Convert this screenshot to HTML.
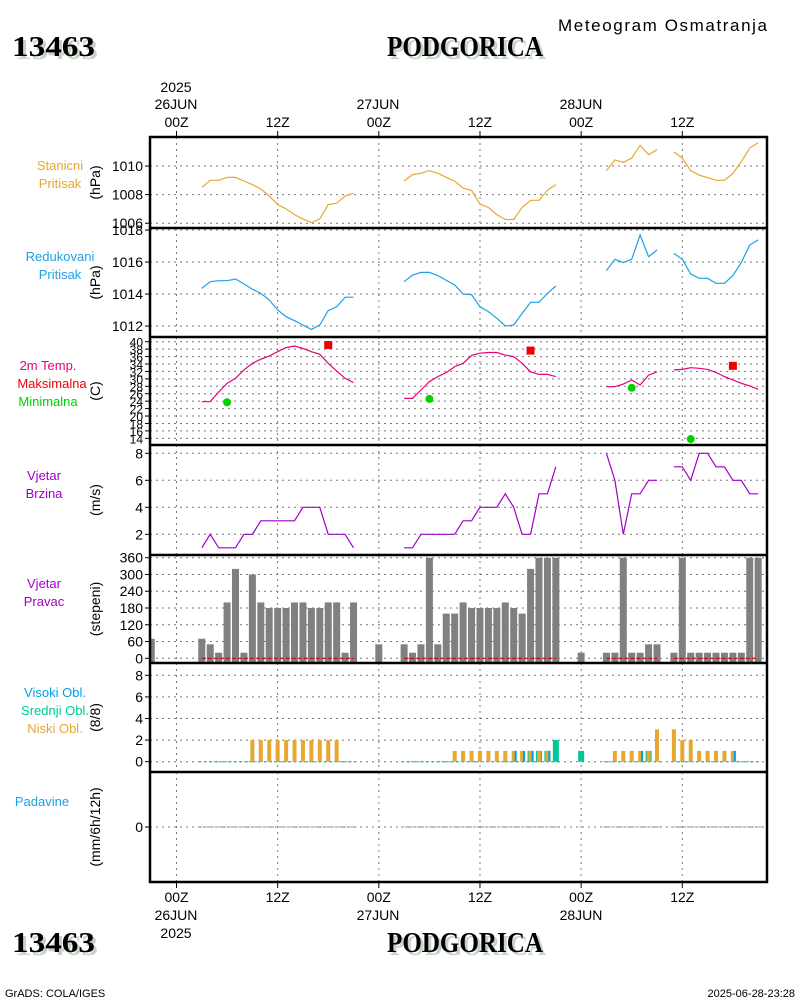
<!DOCTYPE html>
<html><head><meta charset="utf-8"><style>
html,body{margin:0;padding:0;background:#fff;}
svg{display:block;font-family:"Liberation Sans",sans-serif;}
</style></head><body>
<svg id="chart" width="800" height="1000" viewBox="0 0 800 1000" xmlns="http://www.w3.org/2000/svg">
<rect x="0" y="0" width="800" height="1000" fill="#fff"/>
<text x="558" y="31" font-size="17" textLength="209">Meteogram Osmatranja</text>
<g font-family="Liberation Serif, serif" font-weight="bold" font-size="28">
<text x="15" y="59" fill="#c8d4c8" textLength="83" lengthAdjust="spacingAndGlyphs">13463</text>
<text x="12" y="56" fill="#000" textLength="83" lengthAdjust="spacingAndGlyphs">13463</text>
<text x="390" y="59" fill="#c8d4c8" textLength="156" lengthAdjust="spacingAndGlyphs">PODGORICA</text>
<text x="387" y="56" fill="#000" textLength="156" lengthAdjust="spacingAndGlyphs">PODGORICA</text>
<text x="15" y="955" fill="#c8d4c8" textLength="83" lengthAdjust="spacingAndGlyphs">13463</text>
<text x="12" y="952" fill="#000" textLength="83" lengthAdjust="spacingAndGlyphs">13463</text>
<text x="390" y="955" fill="#c8d4c8" textLength="156" lengthAdjust="spacingAndGlyphs">PODGORICA</text>
<text x="387" y="952" fill="#000" textLength="156" lengthAdjust="spacingAndGlyphs">PODGORICA</text>
</g>
<text x="5" y="997" font-size="11">GrADS: COLA/IGES</text>
<text x="795" y="997" font-size="11" text-anchor="end">2025-06-28-23:28</text>
<g font-size="13" text-anchor="middle">
<text x="60" y="170" fill="#e6a830">Stanicni</text>
<text x="60" y="188" fill="#e6a830">Pritisak</text>
<text x="60" y="261" fill="#1ea0e6">Redukovani</text>
<text x="60" y="279" fill="#1ea0e6">Pritisak</text>
<text x="48" y="370" fill="#e6007a">2m Temp.</text>
<text x="52" y="388" fill="#f00000">Maksimalna</text>
<text x="48" y="406" fill="#00d200">Minimalna</text>
<text x="44" y="480" fill="#a000c8">Vjetar</text>
<text x="44" y="498" fill="#a000c8">Brzina</text>
<text x="44" y="588" fill="#a000c8">Vjetar</text>
<text x="44" y="606" fill="#a000c8">Pravac</text>
<text x="55" y="697" fill="#00a0e6">Visoki Obl.</text>
<text x="55" y="715" fill="#00c896">Srednji Obl.</text>
<text x="55" y="733" fill="#e6a830">Niski Obl.</text>
<text x="42" y="806" fill="#1ea0e6">Padavine</text>
</g>
<g font-size="14" text-anchor="middle">
<text x="176" y="92">2025</text>
<text x="176" y="109">26JUN</text>
<text x="378" y="109">27JUN</text>
<text x="581" y="109">28JUN</text>
<text x="176" y="920">26JUN</text>
<text x="378" y="920">27JUN</text>
<text x="581" y="920">28JUN</text>
<text x="176" y="938">2025</text>
</g>
<g id="plot"></g>
</svg>
<script>
const hoursTicks = [0, 12, 24, 36, 48, 60];
const hourLabels = ["00Z", "12Z", "00Z", "12Z", "00Z", "12Z"];
const stnStarts = [3, 27, 51, 59];
const stnVals = [
 [1008.5,1009.0,1009.0,1009.2,1009.2,1008.95,1008.7,1008.4,1007.9,1007.3,1007.0,1006.6,1006.3,1006.05,1006.3,1007.3,1007.4,1007.9,1008.1],
 [1008.95,1009.4,1009.5,1009.67,1009.5,1009.2,1008.95,1008.45,1008.3,1007.33,1007.1,1006.6,1006.26,1006.26,1007.1,1007.6,1007.6,1008.3,1008.7],
 [1009.67,1010.43,1010.26,1010.55,1011.45,1010.79,1011.14],
 [1010.98,1010.55,1009.67,1009.36,1009.19,1009.0,1009.0,1009.48,1010.31,1011.26,1011.62]
];
const redVals = [
 [1014.35,1014.77,1014.83,1014.83,1014.94,1014.63,1014.3,1014.04,1013.63,1013.0,1012.58,1012.33,1012.06,1011.79,1012.06,1012.96,1013.2,1013.8,1013.8],
 [1014.77,1015.19,1015.35,1015.35,1015.15,1014.85,1014.56,1014.0,1013.96,1013.2,1012.9,1012.48,1012.0,1012.06,1012.79,1013.48,1013.48,1014.04,1014.5],
 [1015.46,1016.17,1015.96,1016.17,1017.69,1016.33,1016.75],
 [1016.54,1016.17,1015.25,1014.98,1014.98,1014.67,1014.67,1015.15,1015.96,1017.06,1017.38]
];
const tempVals = [
 [23.85,23.85,26.5,28.8,30.15,32.4,34.2,35.3,36.15,37.3,38.4,38.85,38.2,37.3,36.6,34.2,32.1,30.15,29.0],
 [24.75,24.75,27.0,29.25,30.6,31.7,33.3,34.2,36.3,36.9,37.1,37.1,36.4,35.95,34.2,31.9,31.2,31.2,30.6],
 [27.9,27.9,28.6,29.7,28.35,31.0,31.9],
 [32.4,32.55,33.0,32.85,32.55,31.75,30.6,29.7,28.8,28.1,27.2]
];
const maxHours = [18, 42, 66];
const maxTemps = [39.1, 37.6, 33.5];
const minHours = [6, 30, 54, 61];
const minTemps = [23.7, 24.6, 27.6, 13.8];
const spdVals = [
 [1,2,1,1,1,2,2,3,3,3,3,3,4,4,4,2,2,2,1],
 [1,1,2,2,2,2,2,3,3,4,4,4,5,4,2,2,5,5,7],
 [8,6,2,5,5,6,6],
 [7,7,6,8,8,7,7,6,6,5,5]
];
const dirVals = [
 [70,50,20,200,320,20,300,200,180,180,180,200,200,180,180,200,200,20,200],
 [50,20,50,360,50,160,160,200,180,180,180,180,200,180,160,320,360,360,360],
 [20,20,360,20,20,50,50],
 [20,360,20,20,20,20,20,20,20,360,360]
];
const dirExtraHours = [-3, 24, 48];
const dirExtraVals = [70, 50, 20];
const lowVals = [
 [0,0,0,0,0,0,2,2,2,2,2,2,2,2,2,2,2,0,0],
 [0,0,0,0,0,0,1,1,1,1,1,1,1,1,1,1,1,1,0],
 [0,1,1,1,1,1,3],
 [3,2,2,1,1,1,1,1,0,0,0]
];
const midVals = [
 [0,0,0,0,0,0,0,0,0,0,0,0,0,0,0,0,0,0,0],
 [0,0,0,0,0,0,0,0,0,0,0,0,0,0,0,1,1,1,2],
 [0,0,0,0,0,1,0],
 [0,0,0,0,0,0,0,0,0,0,0]
];
const highVals = [
 [0,0,0,0,0,0,0,0,0,0,0,0,0,0,0,0,0,0,0],
 [0,0,0,0,0,0,0,0,0,0,0,0,0,1,1,1,0,1,0],
 [0,0,0,0,1,0,0],
 [0,0,0,0,0,0,0,1,0,0,0]
];
const midExtraHours = [48];
const midExtraVals = [1];
const precipVals = [0, 0, 0, 0];

const NS = "http://www.w3.org/2000/svg";
const plot = document.getElementById("plot");
const X0 = 150, X1 = 767;
function xh(h) { return 176.5 + h * 8.43; }
function mk(tag, attrs, parent) {
  const e = document.createElementNS(NS, tag);
  for (const k in attrs) e.setAttribute(k, attrs[k]);
  (parent || plot).appendChild(e);
  return e;
}
const panels = [
  {name:"station-pressure", top:137, bot:228, y:v=>166+(1010-v)*14.3, ticks:[1006,1008,1010], unit:"(hPa)"},
  {name:"reduced-pressure", top:228, bot:337, y:v=>230+(1018-v)*16, ticks:[1012,1014,1016,1018], unit:"(hPa)"},
  {name:"temperature", top:337, bot:445, y:v=>341.7+(40-v)*3.716, ticks:[14,16,18,20,22,24,26,28,30,32,34,36,38,40], unit:"(C)"},
  {name:"wind-speed", top:445, bot:555, y:v=>453.3+(8-v)*13.5, ticks:[2,4,6,8], unit:"(m/s)"},
  {name:"wind-direction", top:555, bot:663, y:v=>658.3-v*0.2794, ticks:[0,60,120,180,240,300,360], unit:"(stepeni)"},
  {name:"clouds", top:663, bot:772, y:v=>761.7-v*10.8, ticks:[0,2,4,6,8], unit:"(8/8)"},
  {name:"precipitation", top:772, bot:882, y:v=>827-v*10, ticks:[0], unit:"(mm/6h/12h)"}
];
panels.forEach(function(p) {
  const g = mk("g", {});
  
  
  hoursTicks.forEach(function(h) {
    const l = mk("line", {x1:xh(h), x2:xh(h), y1:p.top, y2:p.bot, stroke:"#777", "stroke-width":1, "stroke-dasharray":"2,4"}, g);
    
    
  });
  p.ticks.forEach(function(t) {
    const yy = p.y(t);
    const l = mk("line", {x1:X0, x2:X1, y1:yy, y2:yy, stroke:"#777", "stroke-width":1, "stroke-dasharray":"2,4"}, g);
    
    
    const tk = mk("line", {x1:X0-5, x2:X0, y1:yy, y2:yy, stroke:"#000", "stroke-width":1}, g);
    
    
    const tx = mk("text", {x:X0-7, y:yy+5, "font-size":p.name==="temperature"?12:14, "text-anchor":"end"}, g);
    
    
    tx.textContent = t;
  });
  const cy = (p.top + p.bot) / 2;
  const u = mk("text", {x:0, y:0, "font-size":14, "text-anchor":"middle", transform:"translate(100," + cy + ") rotate(-90)"}, g);
  
  
  u.textContent = p.unit;
});
function line(pi, starts, vals, color, nm) {
  const p = panels[pi];
  vals.forEach(function(arr, si) {
    const pts = arr.map(function(v, i) { return xh(starts[si] + i).toFixed(1) + "," + p.y(v).toFixed(1); }).join(" ");
    const pl = mk("polyline", {points:pts, fill:"none", stroke:color, "stroke-width":1.2});
    
    
  });
}
line(0, stnStarts, stnVals, "#e6a830", "station-pressure-line");
line(1, stnStarts, redVals, "#1ea0e6", "reduced-pressure-line");
line(2, stnStarts, tempVals, "#e6007a", "temperature-line");
line(3, stnStarts, spdVals, "#a000c8", "wind-speed-line");
maxHours.forEach(function(h, i) {
  const r = mk("rect", {x:xh(h)-4, y:panels[2].y(maxTemps[i])-4, width:8, height:8, fill:"#f00000"});
  
  
});
minHours.forEach(function(h, i) {
  const c = mk("circle", {cx:xh(h), cy:panels[2].y(minTemps[i]), r:4, fill:"#00d200"});
  
  
});
const pd = panels[4];
function dirBar(h, v) {
  let x = xh(h) - 3.5, w = 7;
  if (x < X0) { w -= (X0 - x); x = X0; }
  const r = mk("rect", {x:x, y:pd.y(v), width:w, height:pd.y(0)-pd.y(v)+4, fill:"#808080"});
  
  
}
dirVals.forEach(function(arr, si) { arr.forEach(function(v, i) { dirBar(stnStarts[si] + i, v); }); });
dirExtraHours.forEach(function(h, i) { dirBar(h, dirExtraVals[i]); });
dirVals.forEach(function(arr, si) {
  const l = mk("line", {x1:xh(stnStarts[si]), x2:xh(stnStarts[si] + arr.length - 1), y1:pd.y(0), y2:pd.y(0), stroke:"#d00000", "stroke-width":1.2, "stroke-dasharray":"4,2"});
  
  
});
const pc = panels[5];
function cbar(h, v, color, dx, w, nm) {
  if (v <= 0) return;
  const r = mk("rect", {x:xh(h)+dx, y:pc.y(v), width:w, height:pc.y(0)-pc.y(v), fill:color});
  
  
}
lowVals.forEach(function(arr, si) {
  const l = mk("line", {x1:xh(stnStarts[si])-3, x2:xh(stnStarts[si] + arr.length - 1)+3, y1:pc.y(0), y2:pc.y(0), stroke:"#00b4c8", "stroke-width":1, "stroke-dasharray":"3,2"});
  
  
  arr.forEach(function(v, i) {
    const h = stnStarts[si] + i;
    cbar(h, midVals[si][i], "#00c896", -3, 6, 'mid-cloud-bar');
    cbar(h, v, "#e6a830", -2, 4, 'low-cloud-bar');
    cbar(h, highVals[si][i], "#00a0e6", 1, 2, 'high-cloud-bar');
  });
});
midExtraHours.forEach(function(h, i) { cbar(h, midExtraVals[i], "#00c896", -3, 6, 'mid-cloud-bar'); });
const pp = panels[6];
precipVals.forEach(function(v, si) {
  const l = mk("line", {x1:xh(stnStarts[si])-3, x2:xh(stnStarts[si] + tempVals[si].length - 1)+3, y1:pp.y(v), y2:pp.y(v), stroke:"#888", "stroke-width":1, "stroke-dasharray":"3,1"});
  
  
});
const fr = mk("rect", {x:X0, y:137, width:X1-X0, height:882-137, fill:"none", stroke:"#000", "stroke-width":2.5});


panels.slice(1).forEach(function(p) {
  const l = mk("line", {x1:X0, x2:X1, y1:p.top, y2:p.top, stroke:"#000", "stroke-width":2.5});
  
  
});
hoursTicks.forEach(function(h, i) {
  const t1 = mk("line", {x1:xh(h), x2:xh(h), y1:131, y2:137, stroke:"#000", "stroke-width":1});
  
  
  const t2 = mk("line", {x1:xh(h), x2:xh(h), y1:882, y2:888, stroke:"#000", "stroke-width":1});
  
  
  const a = mk("text", {x:xh(h), y:127, "font-size":14, "text-anchor":"middle"});
  
  
  a.textContent = hourLabels[i];
  const b = mk("text", {x:xh(h), y:902, "font-size":14, "text-anchor":"middle"});
  
  
  b.textContent = hourLabels[i];
});
</script>
</body></html>
